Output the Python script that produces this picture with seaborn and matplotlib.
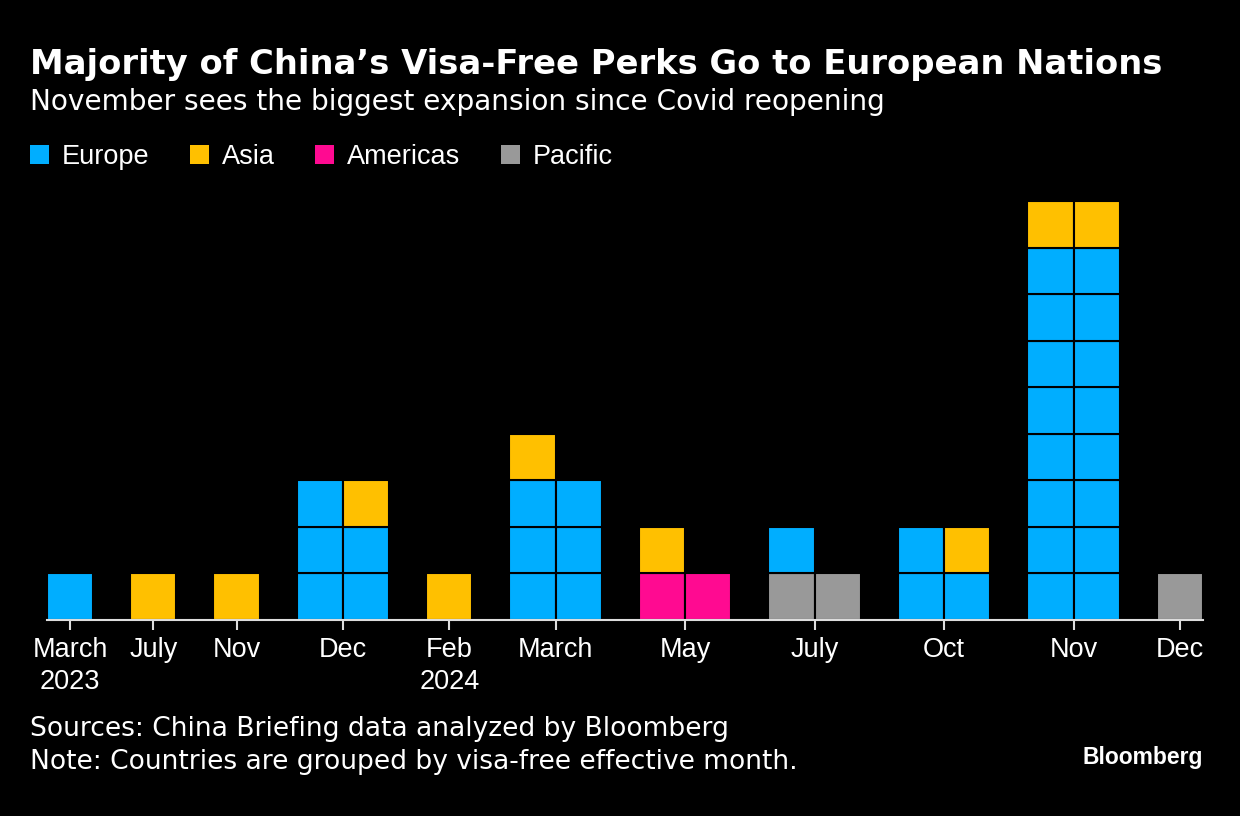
import matplotlib
matplotlib.use("Agg")
import matplotlib.pyplot as plt
import pandas as pd
import seaborn as sns
from matplotlib.patches import Patch

# visa-free countries per effective month, by region
months = ["March\n2023", "July", "Nov", "Dec", "Feb\n2024", "March", "May", "July", "Oct", "Nov", "Dec"]
europe = [1, 0, 0, 5, 0, 6, 0, 1, 3, 16, 0]
asia = [0, 1, 1, 1, 1, 1, 1, 0, 1, 2, 0]
americas = [0, 0, 0, 0, 0, 0, 2, 0, 0, 0, 0]
pacific = [0, 0, 0, 0, 0, 0, 0, 2, 0, 0, 1]

regions = ["Europe", "Asia", "Americas", "Pacific"]
counts = {"Europe": europe, "Asia": asia, "Americas": americas, "Pacific": pacific}
colors = {"Europe": "#00aeff", "Asia": "#ffc000", "Americas": "#ff0a91", "Pacific": "#999999"}
stack_order = ["Pacific", "Americas", "Europe", "Asia"]

# lay out one square per country, filled row by row
gap = 0.8
cells = []
centers = []
x0 = 0
for i in range(len(months)):
    total = sum(counts[r][i] for r in regions)
    ncol = 1 if total == 1 else 2
    k = 0
    for r in stack_order:
        for _ in range(counts[r][i]):
            cells.append({"region": r, "x": x0 + k % ncol, "y": k // ncol})
            k += 1
    centers.append(x0 + ncol / 2)
    x0 += ncol + gap
cells = pd.DataFrame(cells)

sns.set_theme(style="dark", rc={
    "figure.facecolor": "black",
    "axes.facecolor": "black",
    "text.color": "white",
    "xtick.color": "white",
})
plt.rcParams["font.family"] = ["Liberation Sans", "DejaVu Sans"]

fig = plt.figure(figsize=(12.4, 8.16), dpi=100)
ax = fig.add_axes([47 / 1240, 1 - 620 / 816, 1156 / 1240, 430 / 816])

ax.bar(cells["x"], 1, bottom=cells["y"], width=1, align="edge",
       color=cells["region"].map(colors), edgecolor="black", linewidth=1.5)

ax.set_xlim(0, x0 - gap)
ax.set_ylim(0, 430 / 46.55)
ax.set_yticks([])
for s in ["top", "left", "right"]:
    ax.spines[s].set_visible(False)
ax.spines["bottom"].set_color("#dddddd")
ax.spines["bottom"].set_linewidth(1.5)
ax.set_xticks(centers, months)
ax.tick_params(axis="x", length=7.2, width=1.5, color="#dddddd", pad=5,
               labelsize=19.5, bottom=True)
for lab in ax.get_xticklabels():
    lab.set_linespacing(1.3)

handles = [Patch(facecolor=colors[r], edgecolor="none") for r in regions]
fig.legend(handles, regions, loc="upper left", bbox_to_anchor=(30 / 1240, 1 - 144 / 816),
           ncol=4, frameon=False, fontsize=19.5, labelcolor="white",
           borderpad=0, borderaxespad=0,
           handlelength=0.7, handleheight=0.7, handletextpad=0.47, columnspacing=1.5)

fig.text(30 / 1240, 1 - 74 / 816, "Majority of China’s Visa-Free Perks Go to European Nations",
         fontsize=24.3, fontweight="bold", family="DejaVu Sans", color="white", va="baseline")
fig.text(30 / 1240, 1 - 110 / 816, "November sees the biggest expansion since Covid reopening",
         fontsize=20.2, family="DejaVu Sans", color="white", va="baseline")
fig.text(30 / 1240, 1 - 736 / 816, "Sources: China Briefing data analyzed by Bloomberg",
         fontsize=19.1, family="DejaVu Sans", color="white", va="baseline")
fig.text(30 / 1240, 1 - 769 / 816, "Note: Countries are grouped by visa-free effective month.",
         fontsize=19.1, family="DejaVu Sans", color="white", va="baseline")
fig.text(1203 / 1240, 1 - 764 / 816, "Bloomberg", fontsize=16.5, fontweight="bold",
         color="white", ha="right", va="baseline")

fig.savefig("out.png", dpi=100, facecolor="black")
